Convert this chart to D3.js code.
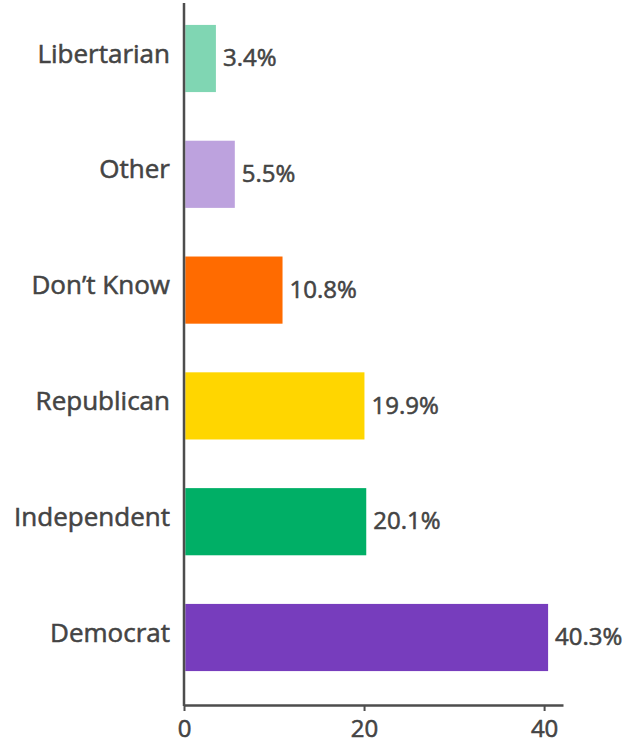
<!DOCTYPE html>
<html>
<head>
<meta charset="utf-8">
<script src="https://cdn.jsdelivr.net/npm/d3@7"></script>
<style>
  html, body { margin: 0; padding: 0; background: #fff; }
  svg { display: block; font-family: "Open Sans", sans-serif; }
  /* regular weight with a hairline stroke, for a medium-weight look */
  text.lbl { stroke: #444; stroke-width: 0.55px; }
</style>
</head>
<body>
<svg id="chart" width="638" height="744"></svg>
<script>
// Party identification, share of respondents (%)
const categories = ["Libertarian", "Other", "Don\u2019t Know", "Republican", "Independent", "Democrat"];
const values = [3.4, 5.5, 10.8, 19.9, 20.1, 40.3];
const colors = ["#80d6b3", "#bda2de", "#ff6b00", "#ffd600", "#00af66", "#773dbd"];
const xTicks = [0, 20, 40];

const svg = d3.select("#chart");
const textColor = "#444";
const axisColor = "#4d4d4d";

const x0 = 184, x1 = 563;
const yTop = 0.6, yBottom = 695.4, axisY = 705;
const barInset = 1.3; // bars begin just right of the axis line

const x = d3.scaleLinear().domain([0, 42.1]).range([x0, x1]);
const y = d3.scaleBand().domain(categories).range([yTop, yBottom])
  .paddingInner(0.42).paddingOuter(0.21);

const data = categories.map((c, i) => ({ cat: c, value: values[i], color: colors[i] }));

// Bars
svg.append("g").selectAll("rect").data(data).join("rect")
  .attr("x", x(0) + barInset)
  .attr("y", d => y(d.cat))
  .attr("width", d => x(d.value) - x(0))
  .attr("height", y.bandwidth())
  .attr("fill", d => d.color);

// Value labels
svg.append("g").selectAll("text").data(data).join("text")
  .attr("class", "lbl")
  .attr("x", d => x(d.value) + barInset + 7)
  .attr("y", d => y(d.cat) + y.bandwidth() / 2)
  .attr("dy", "0.32em")
  .attr("font-size", 24)
  .attr("fill", textColor)
  .text(d => d.value.toFixed(1) + "%");

// Category labels
svg.append("g").selectAll("text").data(data).join("text")
  .attr("class", "lbl")
  .attr("x", x0 - 14)
  .attr("y", d => y(d.cat) + y.bandwidth() / 2 - 5)
  .attr("dy", "0.35em")
  .attr("text-anchor", "end")
  .attr("font-size", 26)
  .attr("fill", textColor)
  .text(d => d.cat);

// X axis
const xAxis = svg.append("g")
  .attr("transform", `translate(0,${axisY})`)
  .call(d3.axisBottom(x).tickValues(xTicks).tickSize(6).tickPadding(9).tickSizeOuter(0));
xAxis.attr("font-family", null).attr("font-size", null);
xAxis.select(".domain").attr("stroke", axisColor).attr("stroke-width", 2.5);
xAxis.selectAll(".tick line").attr("stroke", axisColor).attr("stroke-width", 2);
xAxis.selectAll(".tick text")
  .attr("class", "lbl")
  .attr("font-size", 24)
  .attr("fill", textColor);

// Y axis line
svg.append("line")
  .attr("x1", x0).attr("x2", x0)
  .attr("y1", 3).attr("y2", axisY + 1)
  .attr("stroke", axisColor)
  .attr("stroke-width", 2.5);
</script>
</body>
</html>
